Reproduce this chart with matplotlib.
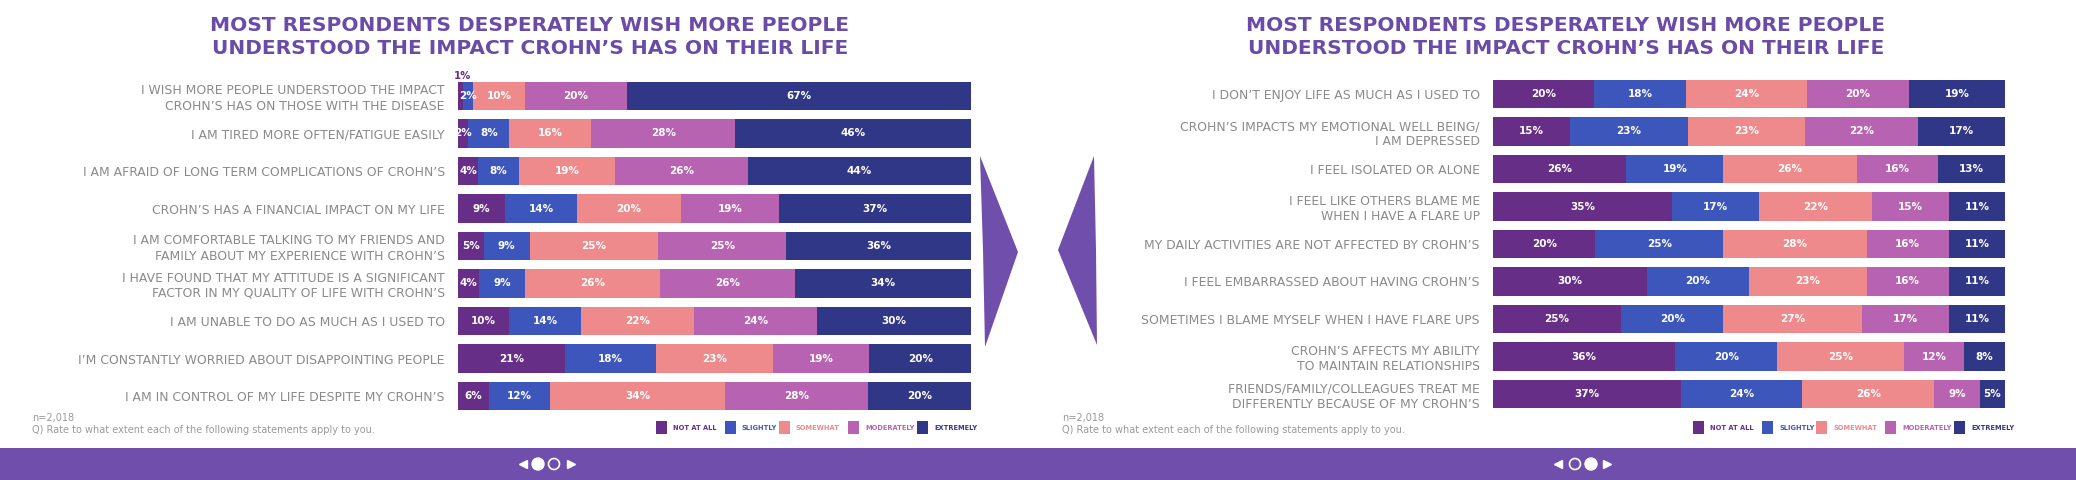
import matplotlib
matplotlib.use("Agg")
import matplotlib.pyplot as plt
from matplotlib.patches import Polygon, Rectangle, Circle
import numpy as np

W, H = 2076, 480

# ---------------- data ----------------
categories = ["NOT AT ALL", "SLIGHTLY", "SOMEWHAT", "MODERATELY", "EXTREMELY"]
colors = ["#662e87", "#3c56bb", "#ee8a8b", "#b763b1", "#313787"]

title_text = "MOST RESPONDENTS DESPERATELY WISH MORE PEOPLE\nUNDERSTOOD THE IMPACT CROHN\u2019S HAS ON THEIR LIFE"

left_labels = [
    "I WISH MORE PEOPLE UNDERSTOOD THE IMPACT\nCROHN\u2019S HAS ON THOSE WITH THE DISEASE",
    "I AM TIRED MORE OFTEN/FATIGUE EASILY",
    "I AM AFRAID OF LONG TERM COMPLICATIONS OF CROHN\u2019S",
    "CROHN\u2019S HAS A FINANCIAL IMPACT ON MY LIFE",
    "I AM COMFORTABLE TALKING TO MY FRIENDS AND\nFAMILY ABOUT MY EXPERIENCE WITH CROHN\u2019S",
    "I HAVE FOUND THAT MY ATTITUDE IS A SIGNIFICANT\nFACTOR IN MY QUALITY OF LIFE WITH CROHN\u2019S",
    "I AM UNABLE TO DO AS MUCH AS I USED TO",
    "I\u2019M CONSTANTLY WORRIED ABOUT DISAPPOINTING PEOPLE",
    "I AM IN CONTROL OF MY LIFE DESPITE MY CROHN\u2019S",
]
left_not_at_all = [1, 2, 4, 9, 5, 4, 10, 21, 6]
left_slightly   = [2, 8, 8, 14, 9, 9, 14, 18, 12]
left_somewhat   = [10, 16, 19, 20, 25, 26, 22, 23, 34]
left_moderately = [20, 28, 26, 19, 25, 26, 24, 19, 28]
left_extremely  = [67, 46, 44, 37, 36, 34, 30, 20, 20]

right_labels = [
    "I DON\u2019T ENJOY LIFE AS MUCH AS I USED TO",
    "CROHN\u2019S IMPACTS MY EMOTIONAL WELL BEING/\nI AM DEPRESSED",
    "I FEEL ISOLATED OR ALONE",
    "I FEEL LIKE OTHERS BLAME ME\nWHEN I HAVE A FLARE UP",
    "MY DAILY ACTIVITIES ARE NOT AFFECTED BY CROHN\u2019S",
    "I FEEL EMBARRASSED ABOUT HAVING CROHN\u2019S",
    "SOMETIMES I BLAME MYSELF WHEN I HAVE FLARE UPS",
    "CROHN\u2019S AFFECTS MY ABILITY\nTO MAINTAIN RELATIONSHIPS",
    "FRIENDS/FAMILY/COLLEAGUES TREAT ME\nDIFFERENTLY BECAUSE OF MY CROHN\u2019S",
]
right_not_at_all = [20, 15, 26, 35, 20, 30, 25, 36, 37]
right_slightly   = [18, 23, 19, 17, 25, 20, 20, 20, 24]
right_somewhat   = [24, 23, 26, 22, 28, 23, 27, 25, 26]
right_moderately = [20, 22, 16, 15, 16, 16, 17, 12, 9]
right_extremely  = [19, 17, 13, 11, 11, 11, 11, 8, 5]

sample_note = "n=2,018"
question_note = "Q) Rate to what extent each of the following statements apply to you."

# ---------------- styling ----------------
TITLE_C = "#6a4ba8"
LABEL_C = "#8a8a8a"
NOTE_C = "#9a9a9a"
BAND_C = "#6f4fab"
FONT = ["DejaVu Sans"]

fig = plt.figure(figsize=(W / 100, H / 100), dpi=100)
bg = fig.add_axes([0, 0, 1, 1], zorder=0)
bg.set_xlim(0, W)
bg.set_ylim(H, 0)
bg.axis("off")


def panel(x0, x1, c_first, labels, series, title_cx, note_x, legend_x, nav_x, active):
    spacing = 37.5
    n = len(labels)
    ytop = c_first - spacing / 2
    ybot = ytop + n * spacing
    ax = fig.add_axes([x0 / W, 1 - ybot / H, (x1 - x0) / W, (ybot - ytop) / H], zorder=2)
    data = np.array(series, dtype=float).T  # rows x categories
    totals = data.sum(axis=1)
    norm = data / totals[:, None] * 100
    lefts = np.cumsum(norm, axis=1) - norm
    y = np.arange(n)
    for j, cat in enumerate(categories):
        ax.barh(y, norm[:, j], left=lefts[:, j], height=0.76, color=colors[j],
                edgecolor="none", label=cat)
        for i in range(n):
            v = data[i, j]
            cx = lefts[i, j] + norm[i, j] / 2
            if v < 2:
                ax.text(cx + 0.4, i - 0.54, f"{int(v)}%", color=colors[j], fontsize=7.3,
                        fontweight="bold", ha="center", va="center", family=FONT)
            else:
                ax.text(cx, i, f"{int(v)}%", color="white", fontsize=7.5,
                        fontweight="bold", ha="center", va="center", family=FONT)
    ax.set_xlim(0, 100)
    ax.set_ylim(n - 0.5, -0.5)
    ax.set_yticks(y, labels)
    ax.tick_params(axis="y", length=0, pad=9.5, labelsize=8.9, labelcolor=LABEL_C)
    for t in ax.get_yticklabels():
        t.set_family(FONT)
        t.set_linespacing(1.2)
    ax.set_xticks([])
    for s in ax.spines.values():
        s.set_visible(False)
    ax.patch.set_alpha(0)

    # title
    bg.text(title_cx, 37, title_text, ha="center", va="center", fontsize=14.5,
            fontweight="bold", color=TITLE_C, linespacing=1.22, family=FONT)
    # notes
    bg.text(note_x, 418, sample_note, ha="left", va="center", fontsize=7, color=NOTE_C, family=FONT)
    bg.text(note_x, 430, question_note, ha="left", va="center", fontsize=7, color=NOTE_C, family=FONT)
    # legend
    offs = [0, 69, 123, 192, 261]
    for j, cat in enumerate(categories):
        lx = legend_x + offs[j]
        bg.add_patch(Rectangle((lx, 421), 11, 13, color=colors[j], lw=0))
        bg.text(lx + 17, 427.5, cat, ha="left", va="center", fontsize=4.8,
                fontweight="bold", color=colors[j], family=FONT)
    # nav
    t1, c1, c2, t2 = nav_x
    bg.plot([t1], [464], marker="<", ms=6, color="white", mec="white")
    bg.plot([t2], [464], marker=">", ms=6, color="white", mec="white")
    filled, hollow = (c1, c2) if active == 0 else (c2, c1)
    bg.add_patch(Circle((filled, 464), 6, facecolor="white", edgecolor="white"))
    bg.add_patch(Circle((hollow, 464), 5.5, facecolor="none", edgecolor="white", lw=1.2))


# footer band
bg.add_patch(Rectangle((0, 448), W, 32, color=BAND_C, lw=0))

panel(458, 971, 96, left_labels,
      [left_not_at_all, left_slightly, left_somewhat, left_moderately, left_extremely],
      title_cx=530, note_x=32, legend_x=656, nav_x=(523, 538, 554, 571), active=0)
panel(1493, 2005, 94, right_labels,
      [right_not_at_all, right_slightly, right_somewhat, right_moderately, right_extremely],
      title_cx=1566, note_x=1062, legend_x=1693, nav_x=(1558, 1575, 1591, 1607), active=1)

# middle arrows
bg.add_patch(Polygon([(980, 156), (1018, 252), (985, 347), (983, 250)], closed=True,
                     color=BAND_C, lw=0))
bg.add_patch(Polygon([(1094, 156), (1058, 250), (1097, 345), (1096, 250)], closed=True,
                     color=BAND_C, lw=0))

fig.savefig("out.png", dpi=100, facecolor="white")
